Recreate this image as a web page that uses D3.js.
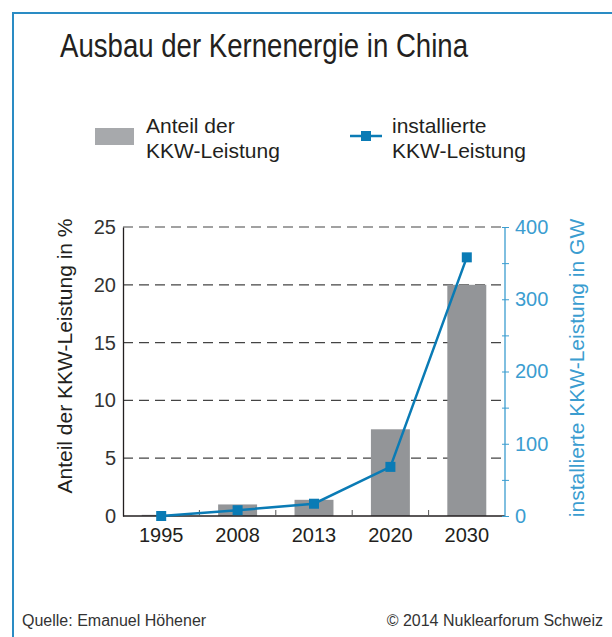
<!DOCTYPE html>
<html>
<head>
<meta charset="utf-8">
<script src="https://cdn.jsdelivr.net/npm/d3@7"></script>
<style>
  body { margin: 0; background: #fff; }
  svg { display: block; font-family: "Liberation Sans", Arial, sans-serif; }
</style>
</head>
<body>
<script>
let years = ["1995", "2008", "2013", "2020", "2030"];
let anteil = [0.1, 1.0, 1.4, 7.5, 20.0];      // % share, bars
let leistung = [0, 8, 17, 68, 358];           // GW, line
let leftTicks = [0, 5, 10, 15, 20, 25];
let rightTicks = [0, 100, 200, 300, 400];

let w = 612, h = 637;
let plotL = 123, plotR = 505, plotT = 227, plotB = 516;

let blue = "#0a7bb5";
let axisBlue = "#3b9dd0";
let gray = "#939598";
let font = "Liberation Sans, Arial, sans-serif";

let svg = d3.select("body").append("svg")
  .attr("width", w)
  .attr("height", h);

// frame
svg.append("line").attr("x1", 12).attr("x2", w).attr("y1", 13).attr("y2", 13)
  .attr("stroke", "#2a8cc4").attr("stroke-width", 2);
svg.append("line").attr("x1", 13).attr("x2", 13).attr("y1", 12).attr("y2", h)
  .attr("stroke", "#2a8cc4").attr("stroke-width", 2);

// title (condensed look, no narrow font installed)
svg.append("text")
  .attr("x", 60).attr("y", 57)
  .attr("font-size", 34)
  .attr("fill", "#231f20")
  .attr("textLength", 408)
  .attr("lengthAdjust", "spacingAndGlyphs")
  .text("Ausbau der Kernenergie in China");

let xScale = d3.scaleBand()
  .domain(years)
  .range([plotL, plotR])
  .paddingInner(0.49)
  .paddingOuter(0.245);

let yLeft = d3.scaleLinear().domain([0, 25]).range([plotB, plotT]);
let yRight = d3.scaleLinear().domain([0, 400]).range([plotB, plotT]);

// gridlines
svg.append("g")
  .selectAll("line")
  .data(leftTicks.filter(d => d > 0))
  .enter().append("line")
  .attr("x1", plotL).attr("x2", plotR)
  .attr("y1", d => yLeft(d)).attr("y2", d => yLeft(d))
  .attr("stroke", "#444")
  .attr("stroke-width", 1.2)
  .attr("stroke-dasharray", "10,6");

// bars
svg.append("g")
  .selectAll("rect")
  .data(anteil)
  .enter().append("rect")
  .attr("x", (d, i) => xScale(years[i]))
  .attr("y", d => yLeft(d))
  .attr("width", xScale.bandwidth())
  .attr("height", d => plotB - yLeft(d))
  .attr("fill", gray);

// left axis
let leftAxis = d3.axisLeft(yLeft).tickValues(leftTicks).tickSize(0).tickPadding(7);
let gL = svg.append("g")
  .attr("transform", "translate(" + plotL + ",0)")
  .call(leftAxis);
gL.select(".domain").attr("stroke", "#231f20").attr("stroke-width", 1.3);
gL.selectAll("text").attr("font-size", 20).attr("fill", "#333").attr("font-family", font);

// x axis
let xAxis = d3.axisBottom(xScale).tickSize(0).tickPadding(12);
let gX = svg.append("g")
  .attr("transform", "translate(0," + plotB + ")")
  .call(xAxis);
gX.select(".domain").attr("stroke", "#231f20").attr("stroke-width", 1.3).attr("d", "M" + plotL + ",0H" + plotR);
gX.selectAll("text").attr("font-size", 20).attr("fill", "#231f20").attr("font-family", font);

// separators between categories
svg.append("g")
  .selectAll("line")
  .data(years.slice(1))
  .enter().append("line")
  .attr("x1", d => xScale(d) - (xScale.step() - xScale.bandwidth()) / 2)
  .attr("x2", d => xScale(d) - (xScale.step() - xScale.bandwidth()) / 2)
  .attr("y1", plotB).attr("y2", plotB - 6)
  .attr("stroke", "#555").attr("stroke-width", 1);

// right axis
let rightAxis = d3.axisRight(yRight)
  .tickValues(d3.range(0, 401, 50))
  .tickSize(4)
  .tickPadding(6)
  .tickFormat(d => rightTicks.includes(d) ? d : "");
let gR = svg.append("g")
  .attr("transform", "translate(" + plotR + ",0)")
  .call(rightAxis);
gR.select(".domain").attr("stroke", axisBlue).attr("stroke-width", 1.3).attr("d", "M0," + plotB + "V" + plotT);
gR.selectAll(".tick line").attr("stroke", axisBlue).attr("x1", -3).attr("x2", 4);
gR.selectAll("text").attr("font-size", 20).attr("fill", axisBlue).attr("font-family", font);

// line series
let line = d3.line()
  .x((d, i) => xScale(years[i]) + xScale.bandwidth() / 2)
  .y(d => yRight(d));

svg.append("path")
  .datum(leistung)
  .attr("d", line)
  .attr("fill", "none")
  .attr("stroke", blue)
  .attr("stroke-width", 2.5);

svg.append("g")
  .selectAll("rect")
  .data(leistung)
  .enter().append("rect")
  .attr("x", (d, i) => xScale(years[i]) + xScale.bandwidth() / 2 - 5)
  .attr("y", d => yRight(d) - 5)
  .attr("width", 10).attr("height", 10)
  .attr("fill", blue);

// axis titles
svg.append("text")
  .attr("transform", "translate(72,356) rotate(-90)")
  .attr("text-anchor", "middle")
  .attr("font-size", 21)
  .attr("fill", "#231f20")
  .text("Anteil der KKW-Leistung in %");

svg.append("text")
  .attr("transform", "translate(584,368) rotate(-90)")
  .attr("text-anchor", "middle")
  .attr("font-size", 21)
  .attr("fill", axisBlue)
  .text("installierte KKW-Leistung in GW");

// legend
svg.append("rect")
  .attr("x", 95).attr("y", 128).attr("width", 39).attr("height", 17)
  .attr("fill", "#a7a9ac");
let lg1 = svg.append("text").attr("font-size", 21).attr("fill", "#231f20");
lg1.append("tspan").attr("x", 146).attr("y", 133).text("Anteil der");
lg1.append("tspan").attr("x", 146).attr("y", 158).text("KKW-Leistung");

svg.append("line")
  .attr("x1", 350).attr("x2", 382).attr("y1", 136).attr("y2", 136)
  .attr("stroke", blue).attr("stroke-width", 2.5);
svg.append("rect")
  .attr("x", 361).attr("y", 131).attr("width", 10).attr("height", 10)
  .attr("fill", blue);
let lg2 = svg.append("text").attr("font-size", 21).attr("fill", "#231f20");
lg2.append("tspan").attr("x", 392).attr("y", 133).text("installierte");
lg2.append("tspan").attr("x", 392).attr("y", 158).text("KKW-Leistung");

// footer
svg.append("text")
  .attr("x", 22).attr("y", 626)
  .attr("font-size", 16)
  .attr("fill", "#333")
  .text("Quelle: Emanuel Höhener");
svg.append("text")
  .attr("x", 603).attr("y", 626)
  .attr("text-anchor", "end")
  .attr("font-size", 16)
  .attr("fill", "#333")
  .text("© 2014 Nuklearforum Schweiz");
</script>
</body>
</html>
